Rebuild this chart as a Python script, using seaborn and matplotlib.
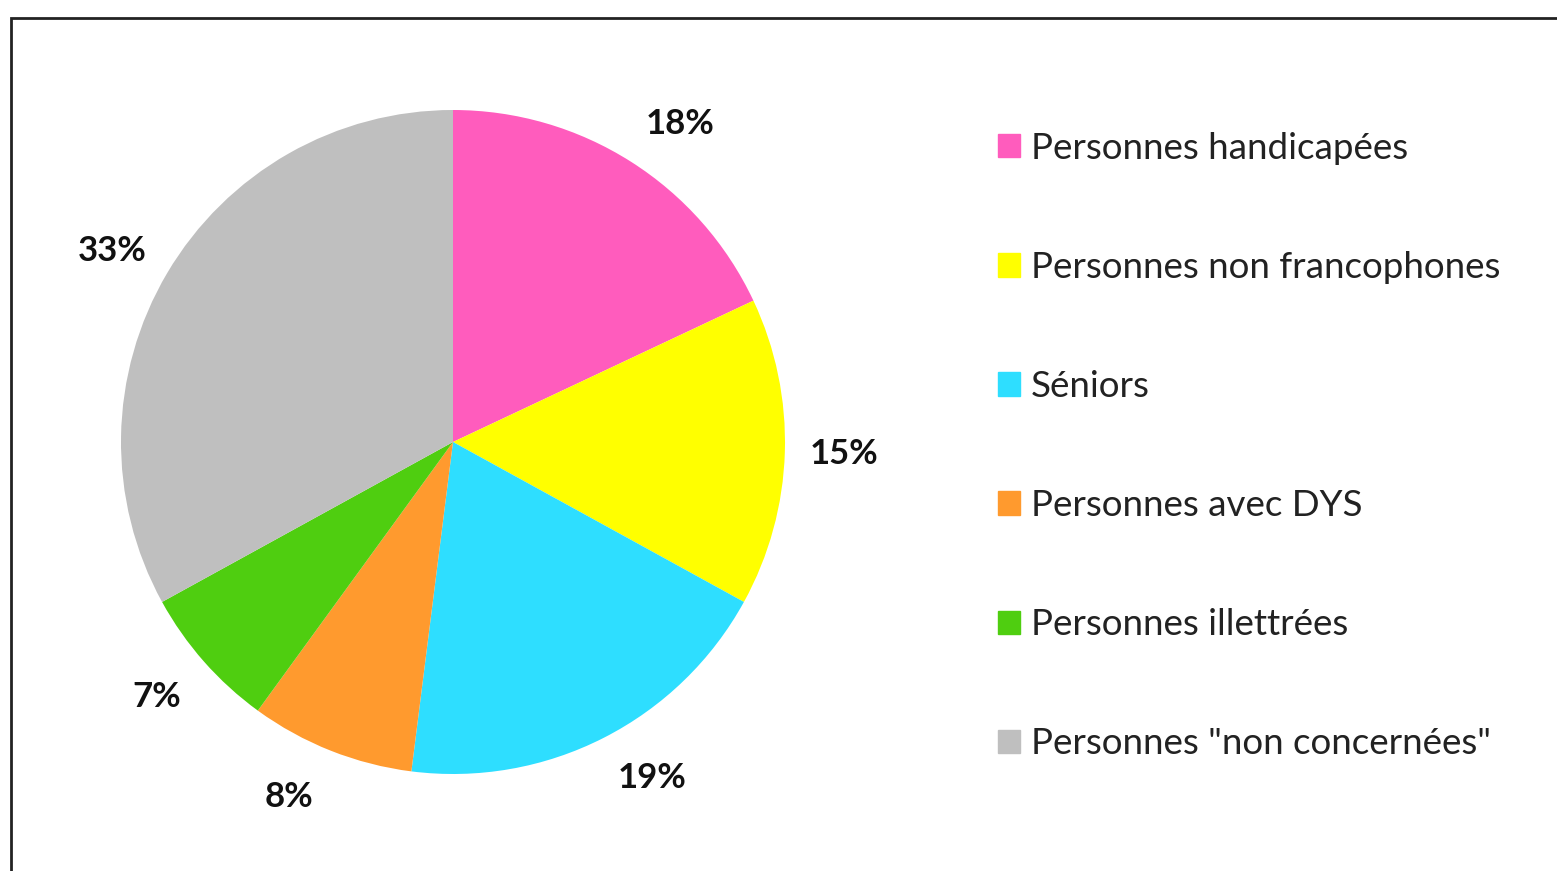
import matplotlib
matplotlib.use("Agg")
import numpy as np
import matplotlib.pyplot as plt
import matplotlib.patches as mpatches
import seaborn as sns

# données
categories = [
    "Personnes handicapées",
    "Personnes non francophones",
    "Séniors",
    "Personnes avec DYS",
    "Personnes illettrées",
    'Personnes "non concernées"',
]
valeurs = [18, 15, 19, 8, 7, 33]
couleurs = ["#FF5CBD", "#FFFF00", "#2EDEFF", "#FF9A2E", "#4FCE10", "#BFBFBF"]

sns.set_theme(style="white")
plt.rcParams["font.family"] = ["Lato", "DejaVu Sans"]

W, H = 1557, 871
fig = plt.figure(figsize=(W / 100, H / 100), dpi=100)
fig.patch.set_facecolor("white")

# cadre (coupé à droite et en bas)
fig.patches.append(mpatches.Rectangle((11 / W, -0.1), 1.2, (H - 18) / H + 0.1,
                                      transform=fig.transFigure, fill=False,
                                      edgecolor="#222222", linewidth=2))

# camembert
cx, cy, r = 453, 442, 332
ax = fig.add_axes([(cx - r) / W, (H - cy - r) / H, 2 * r / W, 2 * r / H])
wedges, texts, autotexts = ax.pie(
    valeurs, colors=couleurs, startangle=90, counterclock=False,
    autopct="%1.0f%%", pctdistance=1.18,
    textprops=dict(fontsize=25, fontweight="bold", color="#111111"),
    wedgeprops=dict(linewidth=0),
)
# placement "au mieux" des étiquettes, façon Excel
decalage = [-3.2, 0, 3.6, -3.2, -0.6, 1.4]
for w, t, d in zip(wedges, autotexts, decalage):
    a = np.deg2rad((w.theta1 + w.theta2) / 2 + d)
    t.set_position((1.177 * np.cos(a), 1.177 * np.sin(a)))
ax.set_xlim(-1, 1)
ax.set_ylim(-1, 1)
ax.set_aspect("equal")

# légende
handles = [mpatches.Patch(color=c, label=l) for c, l in zip(couleurs, categories)]
leg = fig.legend(handles=handles, loc="upper left",
                 bbox_to_anchor=(983 / W, (H - 117) / H),
                 frameon=False, fontsize=26.5, handlelength=0.6, handleheight=0.6,
                 handletextpad=0.3, labelspacing=2.34, borderaxespad=0)
for t in leg.get_texts():
    t.set_color("#222222")

fig.savefig("out.png", dpi=100, facecolor="white")
